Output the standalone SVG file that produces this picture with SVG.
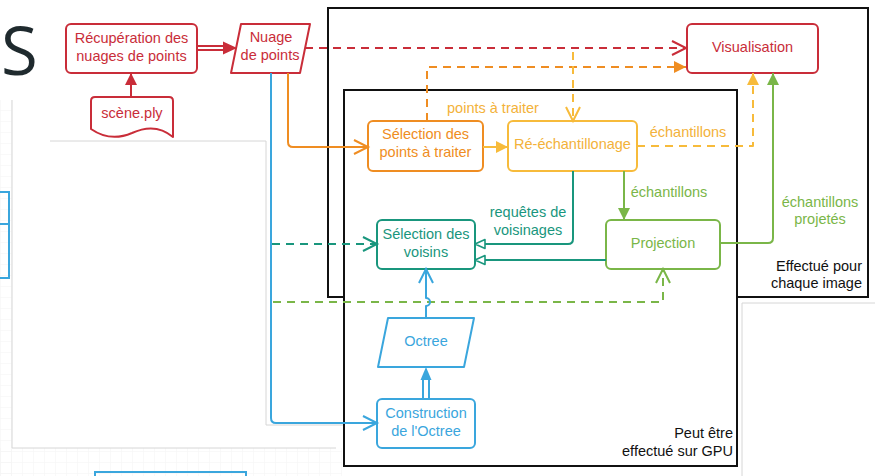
<svg xmlns="http://www.w3.org/2000/svg" width="875" height="476" viewBox="0 0 875 476">
  <style>
    text { font-family: "Liberation Sans", Arial, sans-serif; font-size: 14.5px; text-anchor: middle; }
    .box { fill: #fff; stroke-width: 2; stroke-linejoin: round; }
    .frame { fill: #fff; stroke: #111; stroke-width: 2; }
    .note { fill: #111; text-anchor: end; }
    .conn { fill: none; stroke-width: 2; stroke-linejoin: round; }
    .dash { stroke-dasharray: 8 6; }
    .bg { fill: none; stroke: #d6d6d6; stroke-width: 1; }
    .red { stroke: #c92d39; } .tred { fill: #c92d39; }
    .orange { stroke: #ef8d22; } .torange { fill: #ef8d22; }
    .yellow { stroke: #f7bb3b; } .tyellow { fill: #f3b23a; }
    .green { stroke: #7ab648; } .tgreen { fill: #7ab648; }
    .teal { stroke: #19967d; } .tteal { fill: #19967d; }
    .blue { stroke: #3aa6dd; } .tblue { fill: #3aa6dd; }
  </style>
  <defs>
    <pattern id="grid" width="11" height="11" patternUnits="userSpaceOnUse">
      <path d="M11,0 L0,0 L0,11" fill="none" stroke="#f3f3f3" stroke-width="1"/>
    </pattern>
    <marker id="openRed" markerUnits="userSpaceOnUse" markerWidth="16" markerHeight="16" refX="14" refY="7" orient="auto" overflow="visible">
      <path d="M0,0 L14,7 L0,14" fill="none" stroke="#c92d39" stroke-width="2"/>
    </marker>
    <marker id="openOrange" markerUnits="userSpaceOnUse" markerWidth="16" markerHeight="16" refX="14" refY="7" orient="auto" overflow="visible">
      <path d="M0,0 L14,7 L0,14" fill="none" stroke="#ef8d22" stroke-width="2"/>
    </marker>
    <marker id="openYellow" markerUnits="userSpaceOnUse" markerWidth="16" markerHeight="16" refX="14" refY="7" orient="auto" overflow="visible">
      <path d="M0,0 L14,7 L0,14" fill="none" stroke="#f7bb3b" stroke-width="2"/>
    </marker>
    <marker id="openTeal" markerUnits="userSpaceOnUse" markerWidth="16" markerHeight="16" refX="14" refY="7" orient="auto" overflow="visible">
      <path d="M0,0 L14,7 L0,14" fill="none" stroke="#19967d" stroke-width="2"/>
    </marker>
    <marker id="openGreen" markerUnits="userSpaceOnUse" markerWidth="16" markerHeight="16" refX="14" refY="7" orient="auto" overflow="visible">
      <path d="M0,0 L14,7 L0,14" fill="none" stroke="#7ab648" stroke-width="2"/>
    </marker>
    <marker id="openBlue" markerUnits="userSpaceOnUse" markerWidth="16" markerHeight="16" refX="14" refY="7" orient="auto" overflow="visible">
      <path d="M0,0 L14,7 L0,14" fill="none" stroke="#3aa6dd" stroke-width="2"/>
    </marker>
    <marker id="fillOrange" markerUnits="userSpaceOnUse" markerWidth="14" markerHeight="12" refX="12" refY="6" orient="auto" overflow="visible">
      <path d="M0,0 L12,6 L0,12 Z" fill="#ef8d22"/>
    </marker>
    <marker id="fillYellow" markerUnits="userSpaceOnUse" markerWidth="14" markerHeight="12" refX="12" refY="6" orient="auto" overflow="visible">
      <path d="M0,0 L12,6 L0,12 Z" fill="#f7bb3b"/>
    </marker>
    <marker id="fillGreen" markerUnits="userSpaceOnUse" markerWidth="14" markerHeight="12" refX="12" refY="6" orient="auto" overflow="visible">
      <path d="M0,0 L12,6 L0,12 Z" fill="#7ab648"/>
    </marker>
    <marker id="fillRed" markerUnits="userSpaceOnUse" markerWidth="14" markerHeight="12" refX="12" refY="6" orient="auto" overflow="visible">
      <path d="M0,0 L12,6 L0,12 Z" fill="#c92d39"/>
    </marker>
    <marker id="hollowTeal" markerUnits="userSpaceOnUse" markerWidth="14" markerHeight="12" refX="11" refY="6" orient="auto" overflow="visible">
      <path d="M1,1.5 L11,6 L1,10.5 Z" fill="#fff" stroke="#19967d" stroke-width="1.6" stroke-linejoin="round"/>
    </marker>
  </defs>

  <!-- page background: faint grid strips and panel outlines -->
  <rect width="875" height="476" fill="#fff"/>
  <rect x="0" y="100" width="12" height="376" fill="url(#grid)"/>
  <rect x="0" y="448" width="342" height="28" fill="url(#grid)"/>
  <path class="bg" d="M12,100 L12,448 L336,448"/>
  <path class="bg" d="M50,141 L266,141 L266,425 L344,425"/>
  <path class="bg" d="M742,476 L742,303 L875,303"/>
  <text x="1" y="75" style="font-family:'Open Sans','DejaVu Sans',sans-serif;font-size:67px;text-anchor:start;fill:#1f2a2e">S</text>
  <rect x="-4" y="192" width="13" height="86" fill="none" stroke="#3aa6dd" stroke-width="2"/>
  <line x1="-4" y1="224" x2="9" y2="224" stroke="#3aa6dd" stroke-width="2"/>
  <rect x="95" y="472" width="151" height="12" fill="none" stroke="#3aa6dd" stroke-width="2"/>

  <!-- processing frames -->
  <g id="frame-per-image">
    <rect class="frame" x="328" y="8" width="540" height="289"/>
    <text class="note" x="862" y="271">Effectué pour</text>
    <text class="note" x="862" y="288">chaque image</text>
  </g>
  <g id="frame-gpu">
    <rect class="frame" x="344" y="90" width="393" height="376"/>
    <text class="note" x="733" y="438">Peut être</text>
    <text class="note" x="733" y="456">effectué sur GPU</text>
  </g>

  <!-- nodes -->
  <g id="recuperation">
    <rect class="box red" x="66" y="24" width="131" height="49" rx="5"/>
    <text class="tred" x="131.5" y="43">Récupération des</text>
    <text class="tred" x="131.5" y="61">nuages de points</text>
  </g>
  <g id="nuage">
    <path class="box red" d="M241,24 L310,24 L300,73 L231,73 Z"/>
    <text class="tred" x="271" y="42">Nuage</text>
    <text class="tred" x="270" y="60">de points</text>
  </g>
  <g id="scene">
    <path class="box red" d="M91,101 Q91,97 95,97 L169,97 Q173,97 173,101 L173,137 C160,126 145,127 132,133 C118,139 104,138 91,129 Z"/>
    <text class="tred" x="132" y="118">scène.ply</text>
  </g>
  <g id="visualisation">
    <rect class="box red" x="687" y="24" width="131" height="49" rx="5"/>
    <text class="tred" x="752.5" y="52">Visualisation</text>
  </g>
  <g id="selection-points">
    <rect class="box orange" x="368" y="121" width="115" height="50" rx="5"/>
    <text class="torange" x="425.5" y="139">Sélection des</text>
    <text class="torange" x="425.5" y="157">points à traiter</text>
  </g>
  <g id="reechantillonage">
    <rect class="box yellow" x="508" y="121" width="129" height="50" rx="5"/>
    <text class="tyellow" x="572.5" y="149">Ré-échantillonage</text>
  </g>
  <g id="selection-voisins">
    <rect class="box teal" x="377" y="220" width="98" height="49" rx="5"/>
    <text class="tteal" x="426" y="239">Sélection des</text>
    <text class="tteal" x="426" y="257">voisins</text>
  </g>
  <g id="projection">
    <rect class="box green" x="606" y="220" width="114" height="49" rx="5"/>
    <text class="tgreen" x="663" y="248">Projection</text>
  </g>
  <g id="octree">
    <path class="box blue" d="M388,318 L474,318 L464,367 L378,367 Z"/>
    <text class="tblue" x="426" y="346">Octree</text>
  </g>
  <g id="construction">
    <rect class="box blue" x="377" y="399" width="98" height="49" rx="5"/>
    <text class="tblue" x="426" y="418">Construction</text>
    <text class="tblue" x="426" y="436">de l'Octree</text>
  </g>

  <!-- connectors -->
  <g id="connectors">
    <path class="conn red" d="M131,97 L131,73" marker-end="url(#fillRed)"/>
    <path class="conn red" d="M197,46 L225,46 M197,50 L225,50" stroke-width="1.6"/>
    <path class="tred" d="M223,41.5 L237,48 L223,54.5 Z"/>
    <path class="conn red dash" d="M305,48 L686,48" marker-end="url(#openRed)"/>
    <path class="conn orange dash" d="M427,121 L427,67 L686,67" marker-end="url(#fillOrange)"/>
    <path class="conn yellow dash" d="M573,52 L573,121" marker-end="url(#openYellow)"/>
    <path class="conn yellow dash" d="M637,146 L753,146 L753,73" marker-end="url(#fillYellow)"/>
    <path class="conn green" d="M720,243 L768,243 Q773,243 773,238 L773,73" marker-end="url(#fillGreen)"/>
    <path class="conn orange" d="M288,73 L288,142 Q288,147 293,147 L368,147" marker-end="url(#openOrange)"/>
    <path class="conn yellow" d="M483,147 L508,147" marker-end="url(#fillYellow)"/>
    <path class="conn teal" d="M573,171 L573,239 Q573,244 568,244 L475,244" marker-end="url(#hollowTeal)"/>
    <path class="conn green" d="M624,171 L624,220" marker-end="url(#fillGreen)"/>
    <path class="conn teal" d="M606,260 L475,260" marker-end="url(#hollowTeal)"/>
    <path class="conn teal dash" d="M272,244 L377,244" marker-end="url(#openTeal)"/>
    <path class="conn green dash" d="M273,302 L663,302 L663,269" marker-end="url(#openGreen)"/>
    <path class="conn blue" d="M271,73 L271,418 Q271,423 276,423 L377,423" marker-end="url(#openBlue)"/>
    <path class="conn blue" d="M423,399 L423,378 M429,399 L429,378" stroke-width="1.6"/>
    <path class="tblue" d="M420.5,380 L426,367 L431.5,380 Z"/>
    <path class="conn blue" d="M426,318 L426,306 A4,4 0 0 0 426,298 L426,269" marker-end="url(#openBlue)"/>
    <text class="tyellow" x="493" y="113">points à traiter</text>
    <text class="tyellow" x="688" y="137">échantillons</text>
    <text class="tgreen" x="669" y="197">échantillons</text>
    <text class="tgreen" x="820" y="207">échantillons</text>
    <text class="tgreen" x="820" y="224">projetés</text>
    <text class="tteal" x="528" y="217">requêtes de</text>
    <text class="tteal" x="528" y="235">voisinages</text>
  </g>
</svg>
